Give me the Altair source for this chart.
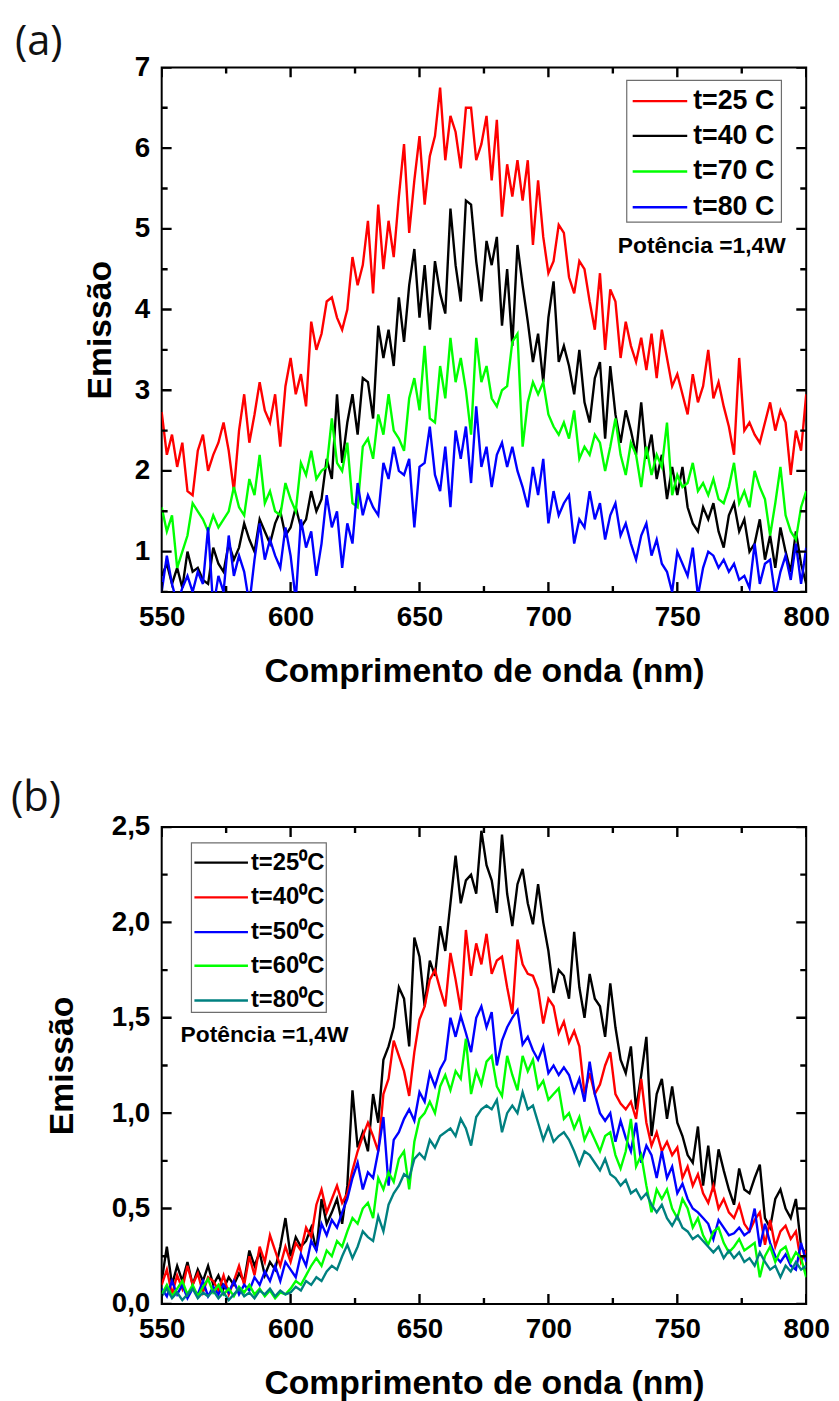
import altair as alt
import pandas as pd

WL = list(range(550, 801, 2))

# Panel (a) series
A_T25 = [2.73, 2.2, 2.45, 2.05, 2.35, 1.75, 1.7, 2.25, 2.45, 2.0,
         2.2, 2.35, 2.6, 2.25, 1.75, 2.5, 2.95, 2.35, 2.7, 3.1,
         2.75, 2.6, 2.95, 2.3, 3.05, 3.4, 2.95, 3.2, 2.8, 3.85,
         3.5, 3.7, 4.1, 4.15, 3.9, 3.75, 4.0, 4.65, 4.3, 4.55,
         5.1, 4.2, 5.3, 4.5, 5.1, 4.65, 5.4, 6.05, 4.95, 5.6,
         6.15, 5.3, 5.9, 6.15, 6.75, 5.85, 6.4, 6.2, 5.75, 6.5,
         6.5, 5.85, 6.05, 6.4, 5.6, 6.35, 5.15, 5.8, 5.4, 5.85,
         5.35, 5.85, 4.8, 5.6, 4.9, 4.45, 4.6, 5.05, 4.95, 4.4,
         4.2, 4.6, 4.5, 4.1, 3.75, 4.45, 3.5, 4.25, 4.1, 3.4,
         3.85, 3.55, 3.35, 3.65, 3.25, 3.7, 3.15, 3.75, 3.4, 3.05,
         3.2, 2.95, 2.7, 3.2, 2.85, 3.05, 3.5, 2.9, 3.1, 2.8,
         2.55, 2.2, 3.4, 2.5, 2.6, 2.45, 2.35, 2.6, 2.85, 2.5,
         2.75, 2.6, 1.95, 2.5, 2.25, 2.95]
A_T40 = [0.7, 0.85, 0.6, 0.8, 0.55, 1.0, 0.75, 0.8, 0.65, 0.6,
         1.05, 0.85, 0.75, 1.1, 0.9, 1.05, 1.35, 1.15, 1.0, 1.4,
         1.25, 1.1, 1.35, 1.5, 1.2, 1.3, 1.55, 1.3, 1.4, 1.75,
         1.5, 1.65, 2.15, 1.9, 2.95, 2.1, 2.6, 2.95, 2.45, 3.15,
         3.1, 2.65, 3.8, 3.4, 3.75, 3.3, 4.15, 3.6, 4.3, 4.75,
         3.9, 4.55, 3.75, 4.6, 4.2, 3.95, 5.25, 4.55, 4.1, 5.35,
         5.3, 4.6, 4.1, 4.85, 4.55, 4.9, 3.8, 4.5, 3.55, 4.8,
         4.3, 3.85, 3.35, 3.7, 3.1, 3.9, 4.35, 3.35, 3.55, 3.3,
         2.95, 3.5, 2.85, 2.6, 3.15, 3.35, 2.4, 3.3, 2.7, 2.35,
         2.75, 2.5, 2.2, 2.85, 2.15, 2.45, 1.9, 2.2, 1.65, 2.05,
         1.7, 2.05, 1.55, 1.35, 1.25, 1.55, 1.4, 1.6, 1.25, 1.05,
         1.45, 1.6, 1.25, 1.4, 1.0, 1.1, 1.4, 0.9, 1.2, 0.8,
         1.3, 1.0, 0.75, 1.25, 0.85, 0.6]
A_T70 = [1.55, 1.25, 1.45, 0.8, 1.0, 1.2, 1.6, 1.5, 1.4, 1.25,
         1.45, 1.3, 1.4, 1.5, 1.8, 1.55, 1.45, 1.9, 1.7, 2.2,
         1.6, 1.75, 1.5, 1.45, 1.85, 1.65, 1.5, 2.1, 1.95, 2.25,
         1.9, 2.0, 2.05, 2.65, 2.1, 2.0, 2.35, 1.6, 1.55, 2.3,
         2.4, 2.15, 2.7, 2.45, 2.95, 2.5, 2.4, 2.25, 2.9, 3.15,
         2.75, 3.55, 2.65, 2.6, 3.3, 2.9, 3.65, 3.1, 3.4, 3.0,
         2.45, 3.65, 3.1, 3.3, 2.9, 2.8, 3.0, 3.05, 3.6, 3.7,
         2.3, 2.85, 3.1, 2.95, 3.1, 2.7, 2.55, 2.45, 2.6, 2.4,
         2.75, 2.15, 2.3, 2.2, 2.45, 2.35, 2.0, 2.3, 2.65, 2.2,
         1.95, 2.35, 2.2, 1.8, 2.3, 1.95, 2.2, 2.05, 2.6, 1.7,
         1.95, 1.8, 1.85, 2.1, 1.75, 1.85, 1.7, 1.9, 1.65, 1.6,
         1.8, 2.1, 1.6, 1.75, 1.55, 2.0, 1.8, 1.65, 1.2, 1.6,
         2.05, 1.45, 1.25, 1.15, 1.55, 1.75]
A_T80 = [0.5, 0.95, 0.6, 0.35, 0.55, 0.7, 0.5, 0.75, 0.6, 1.3,
         0.3, 0.7, 0.5, 1.2, 0.7, 0.95, 0.75, 0.35, 0.9, 1.35,
         0.9, 1.15, 0.95, 0.8, 1.3, 0.95, 0.4, 1.4, 1.05, 1.25,
         0.7, 1.1, 1.7, 1.3, 1.5, 0.8, 1.35, 1.1, 1.85, 1.45,
         1.7, 1.55, 1.45, 2.1, 1.9, 2.3, 2.0, 1.95, 2.15, 1.3,
         2.05, 2.1, 2.55, 1.95, 1.75, 2.3, 1.55, 2.5, 2.15, 2.55,
         1.85, 2.8, 2.05, 2.3, 1.8, 2.2, 2.35, 2.05, 2.3, 2.0,
         1.8, 1.55, 2.05, 1.7, 2.15, 1.35, 1.75, 1.45, 1.6, 1.7,
         1.1, 1.4, 1.3, 1.75, 1.4, 1.6, 1.15, 1.45, 1.6, 1.2,
         1.35, 1.1, 0.9, 1.2, 1.35, 0.95, 1.15, 0.85, 0.75, 0.5,
         1.0, 0.85, 0.7, 1.05, 0.45, 0.8, 1.0, 0.95, 0.8, 0.9,
         0.75, 0.85, 0.65, 0.7, 0.55, 1.1, 0.6, 0.85, 0.9, 0.45,
         0.75, 0.95, 0.65, 1.1, 0.6, 1.05]

# Panel (b) series
B_T25 = [0.12, 0.3, 0.1, 0.2, 0.12, 0.22, 0.1, 0.18, 0.12, 0.2,
         0.1, 0.15, 0.08, 0.14, 0.1, 0.16, 0.12, 0.28, 0.2, 0.27,
         0.15, 0.22, 0.18, 0.3, 0.45, 0.25, 0.35, 0.3, 0.33, 0.4,
         0.28, 0.55, 0.42, 0.48, 0.55, 0.42, 0.62, 1.12, 0.82, 0.9,
         0.8, 1.1, 0.95, 1.28, 1.35, 1.45, 1.66, 1.6, 1.35, 1.92,
         1.82, 1.56, 1.8, 1.72, 1.98, 1.85, 2.1, 2.35, 2.1, 2.22,
         2.25, 2.15, 2.48, 2.3, 2.22, 2.05, 2.46, 2.15, 1.98, 2.2,
         2.28, 2.1, 1.99, 2.2, 2.0, 1.85, 1.63, 1.75, 1.72, 1.6,
         1.95, 1.66, 1.5, 1.73, 1.6, 1.56, 1.4, 1.68, 1.45, 1.28,
         1.21, 1.35, 1.02, 1.2, 1.4, 0.88, 1.1, 1.18, 0.97, 1.14,
         0.95, 0.88, 0.78, 0.74, 0.93, 0.62, 0.83, 0.59, 0.81, 0.7,
         0.6, 0.52, 0.71, 0.6, 0.58, 0.66, 0.73, 0.45, 0.4, 0.55,
         0.6, 0.5, 0.45, 0.55, 0.3, 0.26]
B_T40 = [0.1, 0.18, 0.05, 0.15, 0.08, 0.2, 0.1, 0.16, 0.06, 0.14,
         0.12, 0.07, 0.15, 0.05, 0.12, 0.2, 0.1, 0.25, 0.15, 0.3,
         0.22, 0.36, 0.28, 0.2, 0.3, 0.22, 0.32, 0.28, 0.4, 0.35,
         0.52, 0.6, 0.48, 0.55, 0.62, 0.53, 0.58, 0.7, 0.8, 0.88,
         0.95, 0.88, 0.8, 1.1, 1.18, 1.38, 1.3, 1.22, 1.09, 1.32,
         1.49, 1.56, 1.7, 1.75, 1.65, 1.56, 1.84, 1.7, 1.54, 1.96,
         1.72, 1.89, 1.78, 1.94, 1.73, 1.8, 1.82, 1.66, 1.52, 1.91,
         1.78, 1.73, 1.72, 1.65, 1.47, 1.6, 1.56, 1.42, 1.48, 1.37,
         1.43, 1.35, 1.1, 1.21, 1.1, 1.15, 1.25, 1.32, 1.1, 1.05,
         1.02, 1.06, 0.97, 1.18, 0.95, 0.83, 0.9, 0.8, 0.85, 0.78,
         0.82, 0.66, 0.72, 0.62, 0.68, 0.58, 0.53, 0.62, 0.5, 0.55,
         0.48, 0.45, 0.52, 0.42, 0.38, 0.44, 0.48, 0.31, 0.44, 0.3,
         0.38, 0.41, 0.34, 0.38, 0.22, 0.28]
B_T50 = [0.08, 0.04, 0.12, 0.05, 0.1, 0.03, 0.08, 0.05, 0.12, 0.04,
         0.09, 0.05, 0.1, 0.06, 0.12, 0.05, 0.1, 0.07, 0.14, 0.1,
         0.17, 0.12, 0.2, 0.12, 0.22, 0.18, 0.14, 0.26, 0.2, 0.33,
         0.28, 0.42, 0.36, 0.44, 0.4, 0.48, 0.55, 0.66, 0.74, 0.6,
         0.69, 0.66, 0.8, 0.98, 0.62, 0.86, 0.9, 0.97, 1.02, 0.96,
         1.11, 1.06, 1.21, 1.14, 1.23, 1.28, 1.5, 1.4, 1.51, 1.42,
         1.32, 1.5, 1.56, 1.45, 1.53, 1.25, 1.38, 1.45, 1.5, 1.54,
         1.36, 1.4, 1.33, 1.28, 1.35, 1.21, 1.25, 1.2, 1.24, 1.2,
         1.11, 1.18, 1.06, 1.27, 1.1, 1.0, 0.96, 1.0, 0.85, 0.96,
         0.87, 0.8, 0.95, 0.74, 0.83, 0.78, 0.66, 0.8, 0.66, 0.72,
         0.58, 0.63, 0.55, 0.5, 0.48, 0.45, 0.42, 0.34, 0.44, 0.4,
         0.36, 0.37, 0.4, 0.36, 0.38, 0.5, 0.3, 0.42, 0.32, 0.25,
         0.22, 0.26, 0.2, 0.18, 0.32, 0.22]
B_T60 = [0.05, 0.1, 0.04, 0.08, 0.12, 0.05, 0.1, 0.04, 0.09, 0.13,
         0.06, 0.1, 0.05, 0.08, 0.04, 0.09, 0.06, 0.1, 0.05, 0.08,
         0.04, 0.07, 0.03, 0.06, 0.05, 0.08, 0.12, 0.1, 0.15, 0.2,
         0.24, 0.2, 0.28, 0.25, 0.33, 0.3, 0.38, 0.45, 0.42, 0.5,
         0.53, 0.45, 0.66, 0.6, 0.69, 0.64, 0.76, 0.8, 0.6, 0.85,
         0.97, 1.0, 1.06, 1.0, 1.14, 1.2, 1.12, 1.22, 1.18, 1.39,
         1.1, 1.22, 1.15, 1.27, 1.3, 1.14, 1.09, 1.3, 1.2, 1.12,
         1.3, 1.22, 1.28, 1.13, 1.17, 1.07, 1.1, 1.13, 0.97, 1.0,
         0.92, 0.98, 0.86, 0.92, 0.86, 0.8, 0.88, 0.9, 0.78, 0.71,
         0.8, 0.97, 0.72, 0.78, 0.62, 0.48, 0.6, 0.55, 0.6, 0.5,
         0.45, 0.55, 0.5, 0.4, 0.45, 0.36, 0.31, 0.38, 0.4, 0.32,
         0.27, 0.3, 0.34, 0.28, 0.3, 0.32, 0.14, 0.25, 0.3, 0.22,
         0.28, 0.3, 0.22, 0.27, 0.24, 0.14]
B_T80 = [0.04, 0.08, 0.03, 0.06, 0.02, 0.05, 0.08, 0.03, 0.06, 0.04,
         0.07, 0.03, 0.06, 0.02, 0.05, 0.08, 0.04, 0.06, 0.03, 0.07,
         0.05, 0.08, 0.04, 0.07, 0.05, 0.06, 0.09, 0.07, 0.12, 0.1,
         0.14, 0.12, 0.17, 0.2, 0.18, 0.25, 0.31, 0.24, 0.3, 0.38,
         0.35, 0.33, 0.46, 0.38, 0.52, 0.58, 0.62, 0.68, 0.66, 0.76,
         0.79, 0.76, 0.86, 0.82, 0.88, 0.9, 0.92, 0.88, 0.97, 0.92,
         0.83, 0.98, 1.02, 1.04, 1.02, 1.07, 0.9, 1.0, 1.04, 1.0,
         1.11, 1.02, 1.04, 0.95, 0.86, 0.93, 0.85, 0.88, 0.9, 0.86,
         0.8, 0.73, 0.8, 0.78, 0.74, 0.7, 0.76, 0.68, 0.66, 0.62,
         0.65, 0.58, 0.6, 0.55, 0.58, 0.52, 0.48, 0.52, 0.45, 0.41,
         0.46, 0.4, 0.38, 0.34, 0.36, 0.33, 0.3, 0.27, 0.3, 0.24,
         0.28, 0.24, 0.27, 0.22, 0.24, 0.2, 0.27, 0.22, 0.18, 0.2,
         0.14, 0.2, 0.17, 0.22, 0.18, 0.2]

LABELS_A = ["t=25 C", "t=40 C", "t=70 C", "t=80 C"]
COLORS_A = ["#ff0000", "#000000", "#00ff00", "#0000ff"]
LABELS_B = ["t=25\u2070C", "t=40\u2070C", "t=50\u2070C", "t=60\u2070C", "t=80\u2070C"]
COLORS_B = ["#000000", "#ff0000", "#0000ff", "#00ff00", "#008080"]

X_MAJOR = [550, 600, 650, 700, 750, 800]
X_MINOR = [575, 625, 675, 725, 775]
YA_MAJOR = [1, 2, 3, 4, 5, 6, 7]
YA_MINOR = [0.5, 1.5, 2.5, 3.5, 4.5, 5.5, 6.5]
YB_MAJOR = [0, 0.5, 1.0, 1.5, 2.0, 2.5]
YB_MINOR = [0.25, 0.75, 1.25, 1.75, 2.25]

FONT = "Liberation Sans"
W = 650
HA = 529
HB = 481
MAJ = 10
MIN = 6
XDOM = [550, 800]


def build_df(series, labels, ydom, ymaj, ymin, H):
    rows = []
    for lab, vals in zip(labels, series):
        for i, (w, v) in enumerate(zip(WL, vals)):
            rows.append({"wl": w, "val": v, "serie": lab, "i": i})
    # inward ticks on the four frame sides, as short segments at tick values
    ypx = (ydom[1] - ydom[0]) / H
    xpx = (XDOM[1] - XDOM[0]) / W
    tick_names = []
    k = 0
    for vals, ln in ((X_MAJOR, MAJ), (X_MINOR, MIN)):
        for v in vals:
            for y0, d in ((ydom[0], 1), (ydom[1], -1)):
                name = "tick%d" % k
                k += 1
                tick_names.append(name)
                rows.append({"wl": v, "val": y0, "serie": name, "i": 0})
                rows.append({"wl": v, "val": y0 + d * ln * ypx, "serie": name, "i": 1})
    for vals, ln in ((ymaj, MAJ), (ymin, MIN)):
        for v in vals:
            for x0, d in ((XDOM[0], 1), (XDOM[1], -1)):
                name = "tick%d" % k
                k += 1
                tick_names.append(name)
                rows.append({"wl": x0, "val": v, "serie": name, "i": 0})
                rows.append({"wl": x0 + d * ln * xpx, "val": v, "serie": name, "i": 1})
    return pd.DataFrame(rows), tick_names


def panel(series, labels, colors, ydom, ymaj, ymin, H, yfmt_expr, leg, tag,
          tagx, tagy, potx, poty, ytitlex, legfont):
    df, tick_names = build_df(series, labels, ydom, ymaj, ymin, H)
    xscale = alt.Scale(domain=XDOM, nice=False, zero=False)
    yscale = alt.Scale(domain=ydom, nice=False, zero=False)
    xaxis = alt.Axis(values=X_MAJOR, title="Comprimento de onda (nm)", grid=False,
                     ticks=False, domain=False, labelPadding=12, labelFontSize=28,
                     labelFont=FONT, labelFontWeight="bold", labelColor="black",
                     labelFlush=False, labelOverlap=False, titleFont=FONT,
                     titleFontSize=34, titleFontWeight="bold", titleColor="black",
                     titleY=80, titleBaseline="middle")
    yaxis = alt.Axis(values=ymaj, title="Emissão", grid=False, ticks=False,
                     domain=False, labelPadding=12, labelFontSize=28, labelFont=FONT,
                     labelFontWeight="bold", labelColor="black", labelFlush=False,
                     labelOverlap=False, labelExpr=yfmt_expr, titleFont=FONT,
                     titleFontSize=34, titleFontWeight="bold", titleColor="black",
                     titleX=ytitlex, titleY=H / 2, titleBaseline="middle",
                     titleAngle=270)
    dom = labels + tick_names
    rng = colors + ["#000000"] * len(tick_names)
    lines = alt.Chart(df).mark_line(strokeWidth=2.4, clip=True).encode(
        x=alt.X("wl:Q", scale=xscale, axis=xaxis),
        y=alt.Y("val:Q", scale=yscale, axis=yaxis),
        color=alt.Color("serie:N", scale=alt.Scale(domain=dom, range=rng),
                        legend=None),
        detail="serie:N",
        order="i:Q",
    )
    layers = [lines]
    # legend box
    bx0, by0, bx1, by1, lx0, lx1, ltx, ly = leg
    one = pd.DataFrame({"a": [0]})
    layers.append(alt.Chart(one).mark_rect(fill="white", stroke="#6e6e6e",
                                           strokeWidth=1.2).encode(
        x=alt.value(bx0), x2=alt.value(bx1), y=alt.value(by0), y2=alt.value(by1)))
    for lab, col, yy in zip(labels, colors, ly):
        layers.append(alt.Chart(one).mark_rule(color=col, strokeWidth=2.4).encode(
            x=alt.value(lx0), x2=alt.value(lx1), y=alt.value(yy)))
        layers.append(alt.Chart(pd.DataFrame({"t": [lab]})).mark_text(
            align="left", baseline="middle", font=FONT, fontSize=legfont,
            fontWeight="bold", color="black").encode(
            x=alt.value(ltx), y=alt.value(yy), text="t:N"))
    tagdf = pd.DataFrame({"t": [tag]})
    layers.append(alt.Chart(tagdf).mark_text(align="left", baseline="middle",
                                             fontSize=42, font="Open Sans",
                                             color="#111111").encode(
        x=alt.value(tagx), y=alt.value(tagy), text="t:N"))
    potdf = pd.DataFrame({"t": ["Potência =1,4W"]})
    layers.append(alt.Chart(potdf).mark_text(align="left", baseline="middle",
                                             fontSize=23, font=FONT,
                                             fontWeight="bold", color="black").encode(
        x=alt.value(potx), y=alt.value(poty), text="t:N"))
    return alt.layer(*layers).properties(width=W, height=H)


LEG_A = (469, 13, 625, 156, 475, 530, 536, [34, 69, 105, 141])
LEG_B = (30, 16, 166, 187, 33, 87, 90, [36, 71, 106, 140, 175])

pa = panel([A_T25, A_T40, A_T70, A_T80], LABELS_A, COLORS_A, [0.5, 7],
           YA_MAJOR, YA_MINOR, HA, "format(datum.value, 'd')", LEG_A, "(a)",
           -148, -26, 460, 180, -62, 27)
pb = panel([B_T25, B_T40, B_T50, B_T60, B_T80], LABELS_B, COLORS_B, [0, 2.5],
           YB_MAJOR, YB_MINOR, HB,
           "replace(format(datum.value, '.1f'), '.', ',')", LEG_B, "(b)",
           -152, -29, 19, 210, -100, 24)

chart = alt.vconcat(pa, pb, spacing=88).resolve_scale(
    x="independent", y="independent", color="independent"
).properties(
    padding={"left": 2, "top": 6, "right": 0, "bottom": 0},
    background="white",
).configure_view(stroke="black", strokeWidth=2)

chart.save("out.html", embed_options={"renderer": "svg", "actions": False})
